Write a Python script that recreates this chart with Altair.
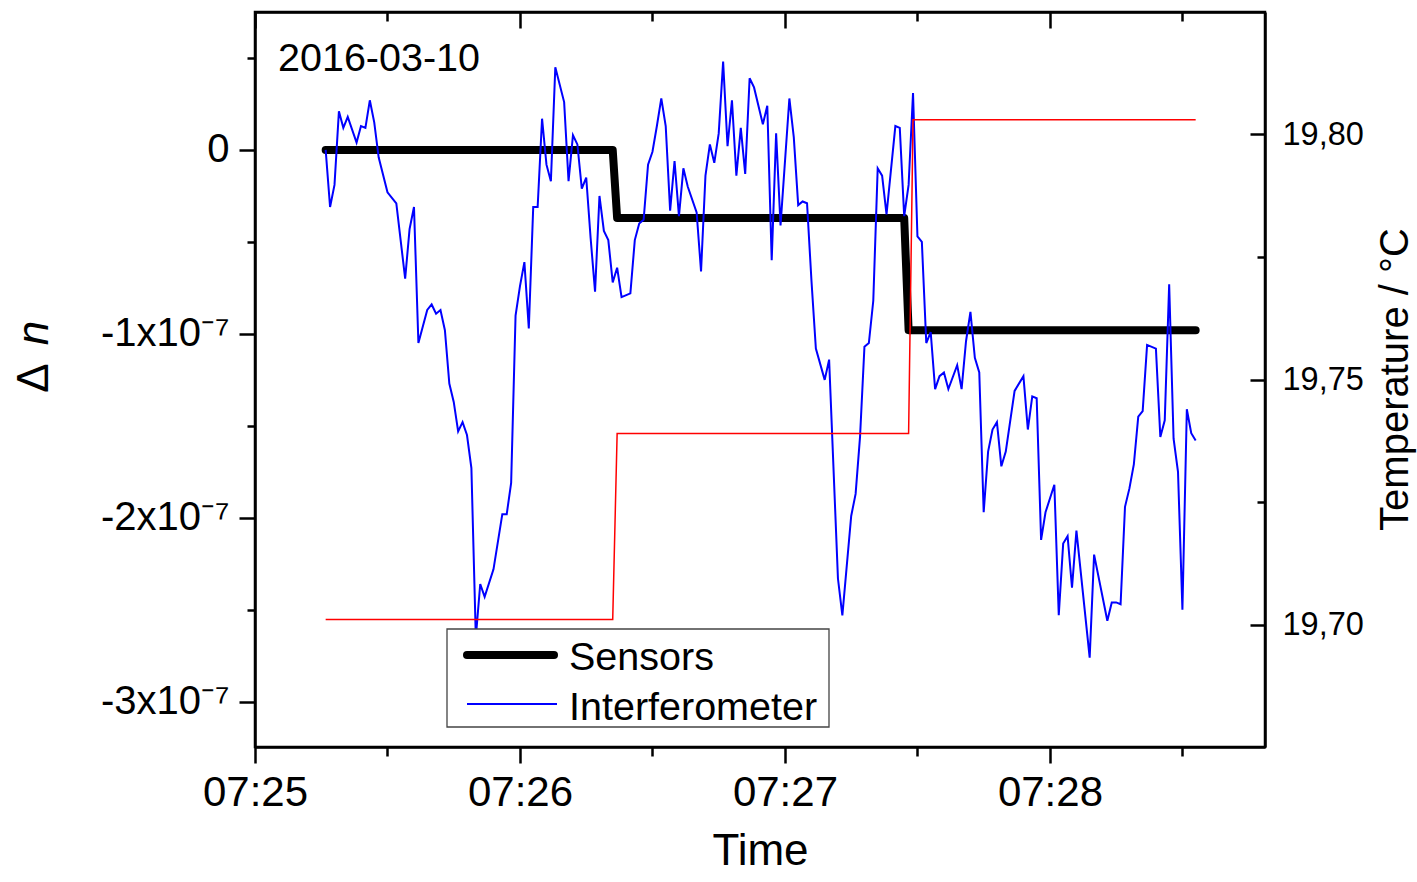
import altair as alt
import pandas as pd

FONT = "Liberation Sans"

# ---------------- data (time = seconds after 07:25:00, Δn in units of 1e-7) ----------------
t_interf = [16, 17, 18, 19, 20, 21, 23, 24, 25, 26, 27, 28, 30, 31, 32, 34, 35, 36, 37, 39,
            40, 41, 42, 43, 44, 45, 46, 47, 48, 49, 50, 51, 52, 54, 56, 57, 58, 59, 60, 61,
            62, 63, 64, 65, 66, 67, 68, 70, 71, 72, 73, 74, 75, 76, 77, 78, 79, 80, 81, 82,
            83, 85, 86, 87, 88, 89, 90, 91, 92, 93, 94, 95, 96, 97, 98, 100, 101, 102, 103, 104,
            105, 106, 107, 108, 109, 110, 111, 112, 113, 115, 116, 117, 118, 119, 121, 122, 123, 124, 125, 126,
            127, 129, 130, 132, 133, 135, 136, 137, 138, 139, 140, 141, 142, 143, 145, 146, 147, 148, 149, 150,
            151, 152, 153, 154, 155, 156, 157, 159, 160, 161, 162, 163, 164, 165, 166, 167, 168, 169, 170, 172,
            174, 175, 176, 177, 178, 179, 181, 182, 183, 184, 185, 186, 189, 190, 193, 194, 195, 196, 197, 198,
            199, 200, 201, 202, 204, 205, 206, 207, 208, 209, 210, 211, 212, 213]
dn_interf = [0.00, -0.31, -0.19, 0.21, 0.12, 0.18, 0.04, 0.13, 0.12, 0.27, 0.15, -0.04, -0.23, -0.26, -0.29, -0.70, -0.43, -0.31, -1.05, -0.87,
             -0.84, -0.89, -0.87, -0.98, -1.27, -1.37, -1.53, -1.48, -1.55, -1.73, -2.65, -2.36, -2.43, -2.28, -1.98, -1.98, -1.81, -0.90, -0.74, -0.61,
             -0.97, -0.31, -0.31, 0.17, -0.08, -0.17, 0.45, 0.26, -0.17, 0.08, 0.03, -0.21, -0.15, -0.48, -0.77, -0.25, -0.44, -0.49, -0.72, -0.64,
             -0.80, -0.78, -0.49, -0.40, -0.38, -0.08, -0.01, 0.13, 0.28, 0.13, -0.33, -0.06, -0.36, -0.10, -0.20, -0.34, -0.66, -0.14, 0.03, -0.07,
             0.09, 0.48, 0.02, 0.27, -0.14, 0.12, -0.13, 0.39, 0.34, 0.14, 0.24, -0.60, 0.09, -0.41, 0.28, 0.07, -0.30, -0.28, -0.29, -0.71,
             -1.08, -1.25, -1.14, -2.33, -2.53, -1.99, -1.87, -1.56, -1.07, -1.05, -0.82, -0.10, -0.14, -0.35, 0.13, 0.12, -0.36, -0.19, 0.31, -0.47,
             -0.50, -1.05, -0.99, -1.30, -1.23, -1.21, -1.30, -1.17, -1.30, -1.04, -0.88, -1.13, -1.21, -1.97, -1.64, -1.52, -1.48, -1.72, -1.64, -1.31,
             -1.23, -1.52, -1.34, -1.35, -2.12, -1.97, -1.82, -2.53, -2.14, -2.10, -2.38, -2.07, -2.76, -2.20, -2.56, -2.46, -2.46, -2.47, -1.94, -1.84,
             -1.71, -1.45, -1.42, -1.06, -1.08, -1.56, -1.47, -0.73, -1.57, -1.75, -2.50, -1.41, -1.54, -1.58]

t_sensor = [16, 81, 82, 147, 148, 213]
dn_sensor = [0.0, 0.0, -0.37, -0.37, -0.98, -0.98]

t_temp = [16, 81, 82, 148, 149, 213]
temp_c = [19.701, 19.701, 19.739, 19.739, 19.803, 19.803]

x_ticks = [0, 30, 60, 90, 120, 150, 180, 210]
dn_ticks = [-3, -2.5, -2, -1.5, -1, -0.5, 0, 0.5]
temp_ticks = [19.70, 19.725, 19.75, 19.775, 19.80]
legend_labels = ["Sensors", "Interferometer"]
date_label = "2016-03-10"

df_i = pd.DataFrame({"t": t_interf, "dn": dn_interf})
df_s = pd.DataFrame({"t": t_sensor, "dn": dn_sensor})
df_t = pd.DataFrame({"t": t_temp, "temp": temp_c})
one = pd.DataFrame({"k": [0]})

x_scale = alt.Scale(domain=[0, 228.7], nice=False, zero=False)
y_scale = alt.Scale(domain=[-3.246, 0.750], nice=False, zero=False)
t_scale = alt.Scale(domain=[19.675, 19.825], nice=False, zero=False)

MAJ_X = "datum.value % 60 === 0"
MAJ_T = "abs(datum.value * 20 - round(datum.value * 20)) < 0.001"

x_bottom = alt.Axis(
    values=x_ticks, title="Time", grid=False,
    labelExpr="datum.value % 60 === 0 ? '07:' + (25 + datum.value / 60) : ''",
    tickSize={"condition": {"test": MAJ_X, "value": 16}, "value": 9},
    labelFontSize=42, titleFontSize=44, labelPadding=9, titlePadding=16,
    labelFlush=False, labelOverlap=False,
)
x_top = alt.Axis(
    orient="top", values=x_ticks, title="", labels=False, grid=False,
    tickSize={"condition": {"test": MAJ_X, "value": -16}, "value": -9},
)
y_left = alt.Axis(
    values=dn_ticks, title="", grid=False,
    labelExpr="datum.value === 0 ? '0' : (datum.value % 1 === 0 ? datum.value + 'x10⁻⁷' : '')",
    tickSize={"condition": {"test": "datum.value % 1 === 0", "value": 16}, "value": 8},
    labelFontSize=40, labelPadding=10, labelFlush=False, labelOverlap=False,
)
y_right = alt.Axis(
    orient="right", values=temp_ticks, title="Temperature / °C", grid=False,
    labelExpr=MAJ_T + " ? replace(format(datum.value, '.2f'), '.', ',') : ''",
    tickSize={"condition": {"test": MAJ_T, "value": -15}, "value": -8},
    labelFontSize=32.5, labelPadding=32, titleFontSize=40,
    titleAngle=270, titleX=142, titleY=367, titleAlign="center", titleBaseline="alphabetic",
    labelFlush=False, labelOverlap=False,
)

sensors = alt.Chart(df_s).mark_line(color="black", strokeWidth=8, strokeCap="round", strokeJoin="round").encode(
    x=alt.X("t:Q", scale=x_scale, axis=x_bottom),
    y=alt.Y("dn:Q", scale=y_scale, axis=y_left),
)
interf = alt.Chart(df_i).mark_line(color="#0000ff", strokeWidth=2).encode(
    x=alt.X("t:Q", scale=x_scale),
    y=alt.Y("dn:Q", scale=y_scale),
)
inner = alt.layer(sensors, interf)

temperature = alt.Chart(df_t).mark_line(color="#ff0000", strokeWidth=1.5).encode(
    x=alt.X("t:Q", scale=x_scale, axis=x_top),
    y=alt.Y("temp:Q", scale=t_scale, axis=y_right),
)

# legend box (drawn on top)
leg_box = alt.Chart(one).mark_rect(fill="white", stroke="#444444", strokeWidth=1.3).encode(
    x=alt.value(192), x2=alt.value(574), y=alt.value(617), y2=alt.value(715)
)
leg_black = alt.Chart(one).mark_rule(color="black", strokeWidth=8, strokeCap="round").encode(
    x=alt.value(212), x2=alt.value(299), y=alt.value(643)
)
leg_blue = alt.Chart(one).mark_rule(color="#0000ff", strokeWidth=2).encode(
    x=alt.value(212), x2=alt.value(302), y=alt.value(692)
)
leg_t1 = alt.Chart(one).mark_text(align="left", baseline="alphabetic", fontSize=39.5, font=FONT).encode(
    x=alt.value(314), y=alt.value(658), text=alt.value(legend_labels[0])
)
leg_t2 = alt.Chart(one).mark_text(align="left", baseline="alphabetic", fontSize=39.5, font=FONT).encode(
    x=alt.value(314), y=alt.value(708), text=alt.value(legend_labels[1])
)
date_txt = alt.Chart(one).mark_text(align="left", baseline="alphabetic", fontSize=39.5, font=FONT).encode(
    x=alt.value(23), y=alt.value(58.7), text=alt.value(date_label)
)
delta_txt = alt.Chart(one).mark_text(align="center", baseline="alphabetic", fontSize=44, font=FONT, angle=270).encode(
    x=alt.value(-207), y=alt.value(366), text=alt.value("Δ")
)
n_txt = alt.Chart(one).mark_text(align="center", baseline="alphabetic", fontSize=44, font=FONT, fontStyle="italic", angle=270).encode(
    x=alt.value(-207), y=alt.value(321), text=alt.value("n")
)

chart = alt.layer(
    inner, temperature, leg_box, leg_black, leg_blue, leg_t1, leg_t2, date_txt, delta_txt, n_txt
).resolve_scale(y="independent").resolve_axis(x="independent").properties(
    width=1010, height=735,
    padding={"left": 255, "top": 12, "right": 152, "bottom": 135},
    autosize=alt.AutoSizeParams(type="none"),
).configure(font=FONT).configure_axis(
    domainColor="black", domainWidth=2.5, tickColor="black", tickWidth=2.5,
    labelColor="black", titleColor="black", labelFont=FONT, titleFont=FONT,
    titleFontWeight="normal",
).configure_view(stroke="black", strokeWidth=2.5)

chart.save("out.html", embed_options={"renderer": "svg", "actions": False})
